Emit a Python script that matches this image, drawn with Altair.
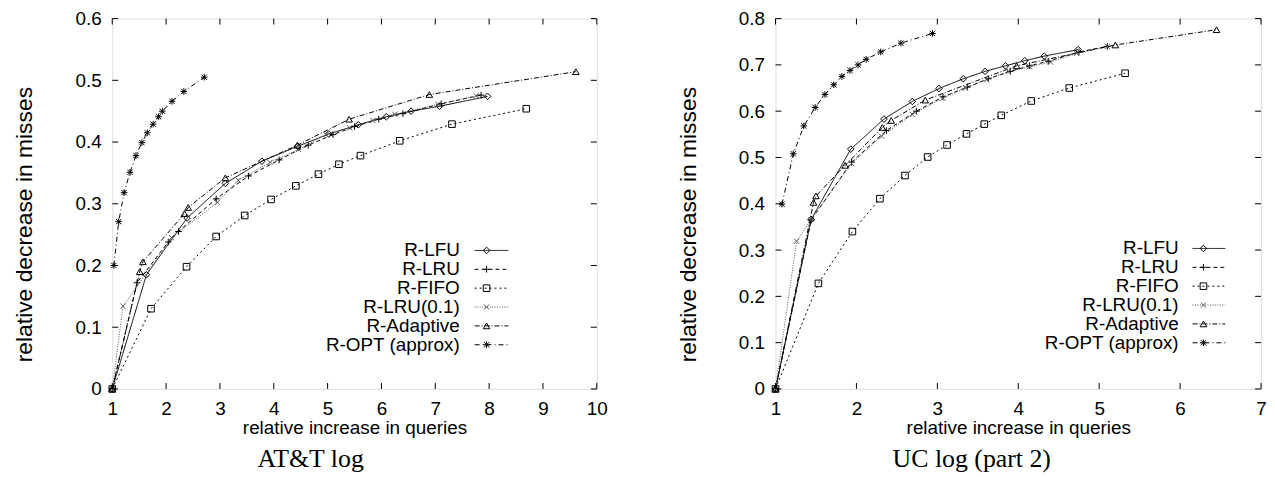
import altair as alt
import pandas as pd

SERIES = ["R-LFU", "R-LRU", "R-FIFO", "R-LRU(0.1)", "R-Adaptive", "R-OPT (approx)"]
DASHES = [[1, 0], [4, 3], [2, 3], [1, 1.5], [5, 2, 1, 2], [5, 3, 1, 3]]
COLORS = ["#000000", "#000000", "#000000", "#555555", "#000000", "#000000"]
PLUS = "M-1,0L1,0M0,-1L0,1"
CROSS = "M-0.8,-0.8L0.8,0.8M-0.8,0.8L0.8,-0.8"
SHAPES = ["diamond", PLUS, "square", CROSS, "triangle-up", PLUS + CROSS]

# ---------------- AT&T log ----------------
att_lfu_x = [1, 1.635, 2.39, 3.10, 3.78, 4.44, 5.02, 5.57, 6.09, 6.55, 7.08, 7.97]
att_lfu_y = [0, 0.185, 0.277, 0.333, 0.369, 0.393, 0.413, 0.428, 0.441, 0.450, 0.458, 0.474]
att_lru_x = [1, 1.46, 2.04, 2.23, 2.93, 3.53, 4.10, 4.64, 5.10, 5.50, 5.95, 6.40, 7.11, 7.85]
att_lru_y = [0, 0.172, 0.238, 0.255, 0.308, 0.345, 0.371, 0.395, 0.412, 0.425, 0.437, 0.446, 0.462, 0.476]
att_fifo_x = [1, 1.72, 2.38, 2.93, 3.46, 3.95, 4.41, 4.83, 5.21, 5.61, 6.34, 7.31, 8.69]
att_fifo_y = [0, 0.130, 0.198, 0.247, 0.281, 0.307, 0.329, 0.348, 0.364, 0.378, 0.402, 0.429, 0.454]
att_lru01_x = [1, 1.20, 2.10, 2.95, 3.34, 3.93, 4.46, 4.97, 5.41, 5.84, 6.25, 7.05, 7.76]
att_lru01_y = [0, 0.134, 0.245, 0.302, 0.338, 0.367, 0.388, 0.412, 0.423, 0.435, 0.445, 0.461, 0.475]
att_adapt_x = [1, 1.51, 1.57, 2.34, 2.41, 3.10, 4.44, 5.40, 6.89, 9.61]
att_adapt_y = [0, 0.190, 0.206, 0.284, 0.294, 0.342, 0.395, 0.437, 0.477, 0.514]
att_opt_x = [1.03, 1.12, 1.22, 1.33, 1.44, 1.55, 1.65, 1.76, 1.86, 1.93, 2.11, 2.33, 2.71]
att_opt_y = [0.200, 0.271, 0.318, 0.351, 0.378, 0.399, 0.415, 0.429, 0.441, 0.450, 0.466, 0.482, 0.505]

# ---------------- UC log (part 2) ----------------
uc_lfu_x = [1, 1.44, 1.93, 2.34, 2.69, 3.02, 3.32, 3.59, 3.84, 4.08, 4.32, 4.74]
uc_lfu_y = [0, 0.366, 0.518, 0.583, 0.621, 0.649, 0.670, 0.686, 0.698, 0.709, 0.719, 0.733]
uc_lru_x = [1, 1.44, 1.94, 2.37, 2.74, 3.07, 3.37, 3.63, 3.90, 4.14, 4.37, 4.75, 5.10]
uc_lru_y = [0, 0.365, 0.490, 0.558, 0.600, 0.631, 0.652, 0.670, 0.686, 0.698, 0.708, 0.728, 0.740]
uc_fifo_x = [1, 1.53, 1.95, 2.29, 2.60, 2.88, 3.12, 3.36, 3.58, 3.79, 4.16, 4.63, 5.32]
uc_fifo_y = [0, 0.228, 0.340, 0.411, 0.461, 0.501, 0.527, 0.551, 0.572, 0.591, 0.622, 0.650, 0.682]
uc_lru01_x = [1, 1.26, 1.44, 1.94, 2.31, 2.69, 3.07, 3.35, 3.61, 3.88, 4.14, 4.40, 4.72, 5.10]
uc_lru01_y = [0, 0.319, 0.366, 0.487, 0.546, 0.593, 0.628, 0.650, 0.668, 0.686, 0.696, 0.706, 0.725, 0.740]
uc_adapt_x = [1, 1.47, 1.50, 1.86, 2.32, 2.43, 2.85, 3.98, 5.20, 6.45]
uc_adapt_y = [0, 0.403, 0.417, 0.483, 0.565, 0.580, 0.624, 0.698, 0.743, 0.776]
uc_opt_x = [1.08, 1.22, 1.35, 1.49, 1.61, 1.72, 1.82, 1.92, 2.02, 2.12, 2.30, 2.55, 2.94]
uc_opt_y = [0.399, 0.508, 0.568, 0.608, 0.636, 0.657, 0.675, 0.688, 0.700, 0.712, 0.728, 0.747, 0.768]

att_x_ticks = list(range(1, 11))
att_y_ticks = [0, 0.1, 0.2, 0.3, 0.4, 0.5, 0.6]
uc_x_ticks = list(range(1, 8))
uc_y_ticks = [0, 0.1, 0.2, 0.3, 0.4, 0.5, 0.6, 0.7, 0.8]

FONT = "Liberation Sans"
H = 373


def long_df(pairs):
    rows = []
    for name, (xs, ys) in zip(SERIES, pairs):
        for i, (a, b) in enumerate(zip(xs, ys)):
            rows.append({"series": name, "x": a, "y": b, "i": i})
    return pd.DataFrame(rows)


def panel(pairs, xdom, xticks, ydom, yticks, W, caption, leg_text_x, leg_line_x1, leg_line_x2, leg_mark_x, leg_y0):
    df = long_df(pairs)
    xs = alt.Scale(domain=xdom, nice=False, zero=False)
    ys = alt.Scale(domain=ydom, nice=False, zero=False)
    dash = alt.StrokeDash("series:N", scale=alt.Scale(domain=SERIES, range=DASHES), legend=None)
    col = alt.Color("series:N", scale=alt.Scale(domain=SERIES, range=COLORS), legend=None)
    shp = alt.Shape("series:N", scale=alt.Scale(domain=SERIES, range=SHAPES), legend=None)

    xaxis = alt.Axis(values=xticks, format="d", title="relative increase in queries",
                     titleFontSize=19, titleFontWeight="normal", titleFont=FONT, titlePadding=0,
                     labelFontSize=19, labelFont=FONT, labelPadding=11,
                     ticks=False, tickSize=0, domain=False, grid=False, labelFlush=False,
                     labelOverlap=False)
    yaxis = alt.Axis(values=yticks, format=".1~f", title="relative decrease in misses",
                     titleFontSize=23, titleFontWeight="normal", titleFont=FONT,
                     titlePadding=38.5, titleY=H - 166,
                     labelFontSize=19, labelFont=FONT, labelPadding=11,
                     ticks=False, tickSize=0, domain=False, grid=False, labelFlush=False,
                     labelOverlap=False)

    X = lambda f: alt.X(f, scale=xs, axis=xaxis, title="relative increase in queries")
    Y = lambda f: alt.Y(f, scale=ys, axis=yaxis, title="relative decrease in misses")

    lines = alt.Chart(df).mark_line(strokeWidth=1, clip=True).encode(
        x=X("x:Q"), y=Y("y:Q"),
        color=col, strokeDash=dash, detail="series:N", order="i:Q")
    points = alt.Chart(df).mark_point(filled=False, strokeWidth=1, size=44, opacity=1).encode(
        x=X("x:Q"), y=Y("y:Q"), color=col, shape=shp)

    xt = pd.DataFrame({"t": xticks})
    yt = pd.DataFrame({"t": yticks})
    tb = alt.Chart(xt).mark_rule(color="black", strokeWidth=1).encode(
        x=X("t:Q"), y=alt.value(H), y2=alt.value(H - 6))
    tt = alt.Chart(xt).mark_rule(color="black", strokeWidth=1).encode(
        x=X("t:Q"), y=alt.value(0), y2=alt.value(6))
    tl = alt.Chart(yt).mark_rule(color="black", strokeWidth=1).encode(
        y=Y("t:Q"), x=alt.value(0), x2=alt.value(6))
    tr = alt.Chart(yt).mark_rule(color="black", strokeWidth=1).encode(
        y=Y("t:Q"), x=alt.value(W - 6), x2=alt.value(W))

    leg = pd.DataFrame({"series": SERIES, "k": list(range(len(SERIES)))})
    lbase = alt.Chart(leg).transform_calculate(ty=f"{leg_y0} + datum.k * 19")
    ltext = lbase.mark_text(align="right", baseline="middle", font=FONT, fontSize=19, color="black").encode(
        x=alt.value(leg_text_x), y=alt.Y("ty:Q", scale=None), text="series:N")
    lline = lbase.mark_rule(strokeWidth=1).encode(
        x=alt.value(leg_line_x1), x2=alt.value(leg_line_x2),
        y=alt.Y("ty:Q", scale=None), color=col, strokeDash=dash)
    lmark = lbase.mark_point(filled=False, strokeWidth=1, size=44, opacity=1).encode(
        x=alt.value(leg_mark_x), y=alt.Y("ty:Q", scale=None), color=col, shape=shp)

    return alt.layer(lines, points, tb, tt, tl, tr, lline, lmark, ltext).properties(
        width=W, height=H,
        title=alt.TitleParams(caption, orient="bottom", font="Liberation Serif", fontSize=26,
                              fontWeight="normal", color="black", offset=9, anchor="middle",
                              frame="bounds"))


left = panel(
    [(att_lfu_x, att_lfu_y), (att_lru_x, att_lru_y), (att_fifo_x, att_fifo_y),
     (att_lru01_x, att_lru01_y), (att_adapt_x, att_adapt_y), (att_opt_x, att_opt_y)],
    [1, 10], att_x_ticks, [0, 0.6], att_y_ticks, 488, "AT&T log",
    350, 365, 399, 377, H - 139.5)

right = panel(
    [(uc_lfu_x, uc_lfu_y), (uc_lru_x, uc_lru_y), (uc_fifo_x, uc_fifo_y),
     (uc_lru01_x, uc_lru01_y), (uc_adapt_x, uc_adapt_y), (uc_opt_x, uc_opt_y)],
    [1, 7], uc_x_ticks, [0, 0.8], uc_y_ticks, 489, "UC log (part 2)",
    406, 420, 453, 431, H - 141.5)

chart = alt.hconcat(left, right, spacing=68).properties(
    padding={"left": 5, "top": -1, "right": 0, "bottom": 0}
).configure_view(stroke="black", strokeWidth=1).configure_axis(
    labelFont=FONT, titleFont=FONT, labelColor="black", titleColor="black", titleFontWeight="normal"
).configure(background="white")

chart.save("out.html", embed_options={"renderer": "svg", "actions": False})
